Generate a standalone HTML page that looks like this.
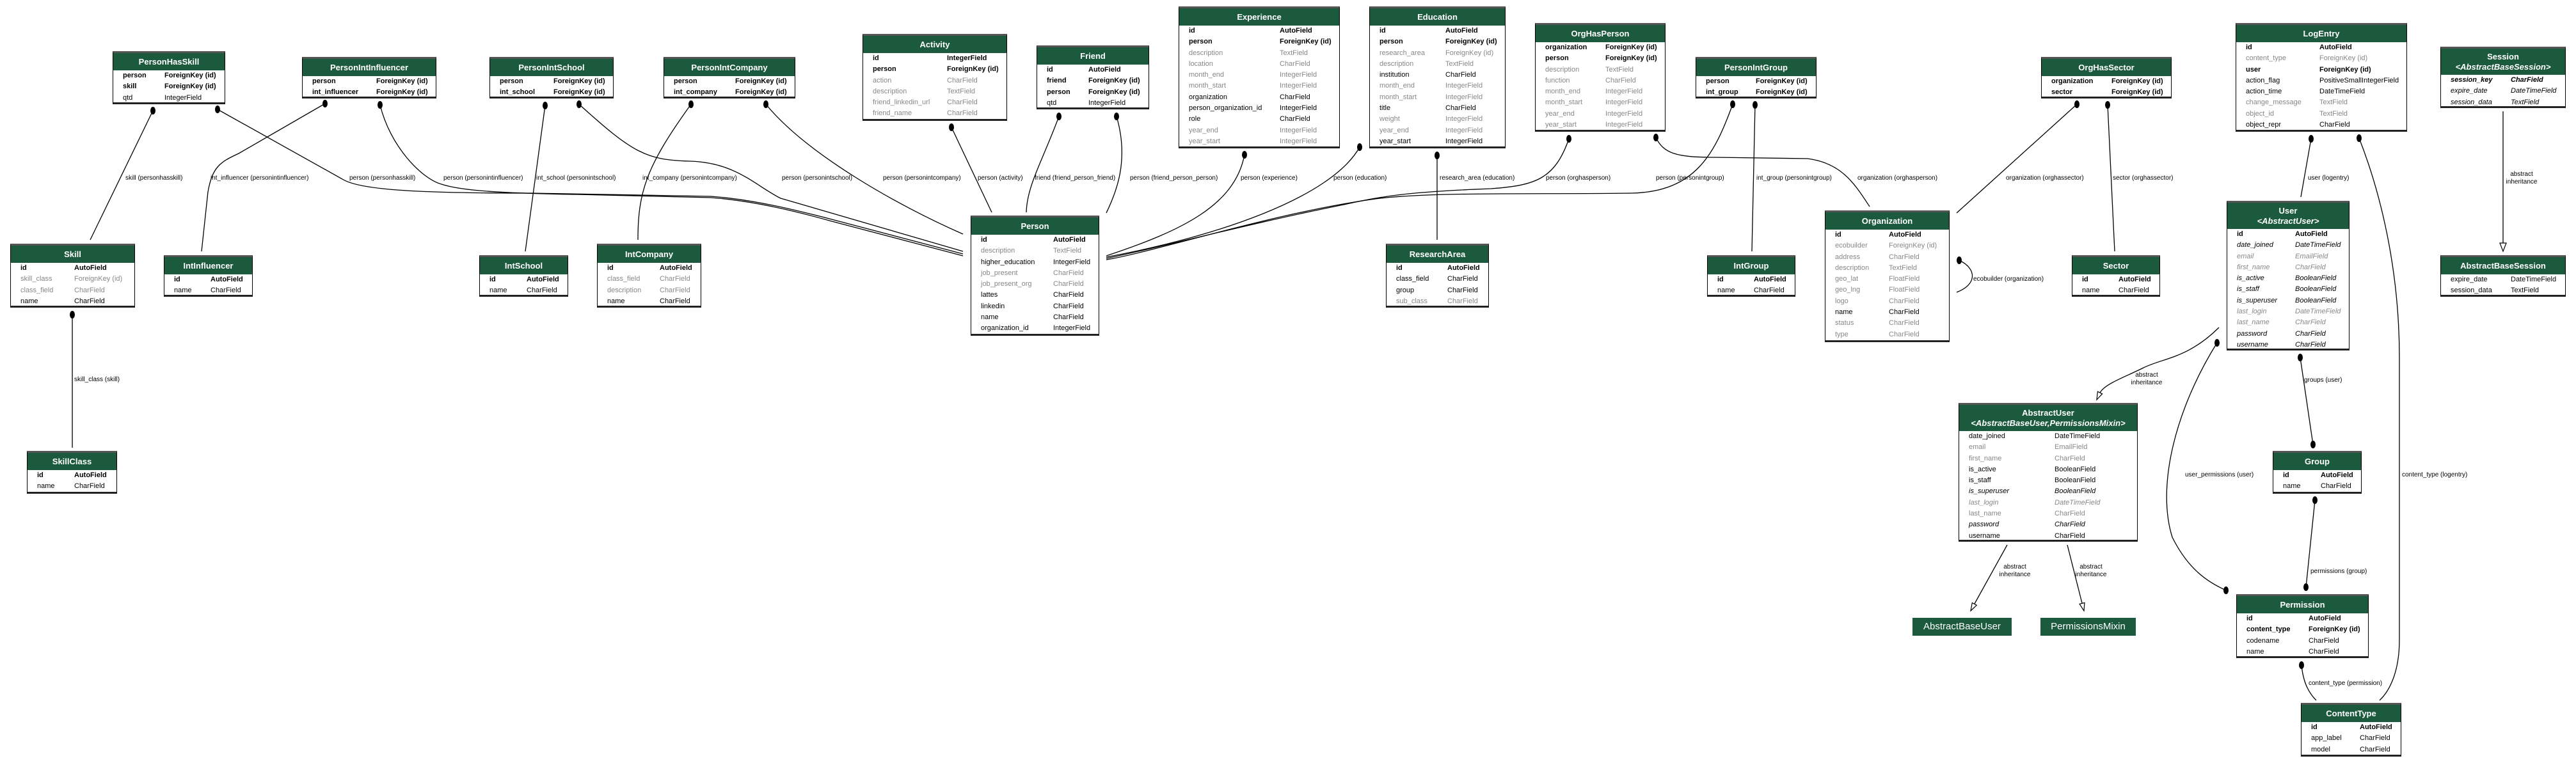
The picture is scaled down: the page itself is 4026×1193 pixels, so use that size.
<!DOCTYPE html>
<html><head><meta charset="utf-8"><style>
html,body{margin:0;padding:0;background:#fff}
#w{position:relative;width:4026px;height:1193px;overflow:hidden;font-family:"Liberation Sans",Arial,sans-serif}
svg{position:absolute;left:0;top:0}
.x{position:absolute;background:#fff;box-sizing:border-box;border:1px solid #000;border-top:3px solid #555;border-bottom:3px solid #222;overflow:hidden}
.h{background:#1c5a3e;color:#fff;font-weight:bold;font-size:13px;text-align:center;height:27px;line-height:27px;white-space:nowrap}
.h2{height:41px;line-height:16px;padding-top:5px;box-sizing:border-box}
.h2 i{font-weight:bold}
.x p{margin:0;position:relative;height:17.3px;line-height:17.3px;padding-left:15px;font-size:11px;white-space:nowrap;color:#000}
.x p span{position:absolute;left:calc(var(--c) - 1px);top:0}
.k{font-weight:bold}.g{color:#888!important}.i{font-style:italic}
.f{position:absolute;background:#1c5a3e;color:#fff;font-size:15px;text-align:center;line-height:28px;height:28px}
</style></head><body><div id="w">
<svg width="4026" height="1193" viewBox="0 0 4026 1193">
<g fill="none" stroke="#000" stroke-width="1.3">
<path d="M239,173 L141,375"/>
<path d="M340,171 L535,280 C560,296 640,302 829,302 L1111,307 C1180,312 1250,330 1300,343 L1505,397"/>
<path d="M594,164 C610,230 660,280 690,288 C720,298 780,302 900,304 L1111,309 C1180,314 1250,332 1300,346 L1505,400"/>
<path d="M905,163 C990,240 1010,250 1078,252 C1150,254 1180,290 1220,310 L1505,393"/>
<path d="M1197,163 C1260,240 1400,320 1505,366"/>
<path d="M508,162 L373,240 C345,253 332,260 325,300 L315,393"/>
<path d="M852,165 L821,393"/>
<path d="M1080,163 C1010,260 997,300 997,375"/>
<path d="M1487,199 L1550,332"/>
<path d="M1655,182 C1630,250 1605,290 1604,332"/>
<path d="M1745,182 C1765,250 1745,300 1729,333"/>
<path d="M1945,242 C1930,320 1850,360 1729,400"/>
<path d="M2125,230 C2080,310 1900,370 1729,402"/>
<path d="M2246,243 L2246,375"/>
<path d="M2452,217 C2430,280 2400,290 2330,295 C2200,300 2157,307 2100,320 C1950,350 1800,390 1729,404"/>
<path d="M2588,215 C2600,240 2620,246 2680,246 L2825,248 C2880,255 2900,290 2922,323"/>
<path d="M2708,163 C2680,240 2650,300 2550,302 C2400,304 2250,300 2157,310 C2000,330 1800,395 1729,406"/>
<path d="M2743,164 L2738,393"/>
<path d="M3246,163 L3058,333"/>
<path d="M3294,164 L3305,393"/>
<path d="M3062,407 C3090,420 3090,445 3058,457"/>
<path d="M3612,217 L3596,308"/>
<path d="M3687,216 C3720,300 3750,420 3750,560 L3750,1000 C3750,1050 3735,1080 3719,1095"/>
<path d="M3912,174 L3912,380"/>
<path d="M3468,512 C3420,560 3380,560 3350,575 C3320,590 3290,600 3282,614"/>
<path d="M3465,536 C3400,640 3370,760 3395,840 C3420,890 3450,910 3479,923"/>
<path d="M3595,559 L3615,695"/>
<path d="M3618,782 L3604,918"/>
<path d="M3597,1040 C3600,1070 3610,1085 3620,1095"/>
<path d="M3137,852 L3086,944"/>
<path d="M3231,852 L3254,943"/>
<path d="M113,492 L113,700"/>
</g>
<g fill="#fff" stroke="#000" stroke-width="1.2">
<polygon points="3907,380 3917,380 3912,393"/>
<polygon points="3277,625 3285.6,615.8 3278.4,612.2"/>
<polygon points="3080,955 3089.3,946.3 3082.3,942.5"/>
<polygon points="3257,955 3257.9,942.4 3250.1,944.4"/>
</g>
<g fill="#000">
<ellipse cx="239" cy="173" rx="4" ry="6"/><ellipse cx="340" cy="171" rx="4" ry="6"/><ellipse cx="508" cy="162" rx="4" ry="6"/><ellipse cx="594" cy="164" rx="4" ry="6"/><ellipse cx="852" cy="165" rx="4" ry="6"/><ellipse cx="905" cy="163" rx="4" ry="6"/><ellipse cx="1080" cy="163" rx="4" ry="6"/><ellipse cx="1197" cy="163" rx="4" ry="6"/><ellipse cx="1487" cy="199" rx="4" ry="6"/><ellipse cx="1655" cy="182" rx="4" ry="6"/><ellipse cx="1745" cy="182" rx="4" ry="6"/><ellipse cx="1945" cy="242" rx="4" ry="6"/><ellipse cx="2125" cy="230" rx="4" ry="6"/><ellipse cx="2246" cy="243" rx="4" ry="6"/><ellipse cx="2452" cy="217" rx="4" ry="6"/><ellipse cx="2588" cy="215" rx="4" ry="6"/><ellipse cx="2708" cy="163" rx="4" ry="6"/><ellipse cx="2743" cy="164" rx="4" ry="6"/><ellipse cx="3246" cy="163" rx="4" ry="6"/><ellipse cx="3294" cy="164" rx="4" ry="6"/><ellipse cx="3062" cy="407" rx="4" ry="6"/><ellipse cx="3612" cy="217" rx="4" ry="6"/><ellipse cx="3687" cy="216" rx="4" ry="6"/><ellipse cx="3465" cy="536" rx="4" ry="6"/><ellipse cx="3595" cy="559" rx="4" ry="6"/><ellipse cx="3615" cy="695" rx="4" ry="6"/><ellipse cx="3618" cy="782" rx="4" ry="6"/><ellipse cx="3604" cy="918" rx="4" ry="6"/><ellipse cx="3479" cy="923" rx="4" ry="6"/><ellipse cx="3597" cy="1040" rx="4" ry="6"/><ellipse cx="113" cy="492" rx="4" ry="6"/>
</g>
<g font-family="Liberation Sans, Arial, sans-serif" font-size="10" fill="#000">
<text x="196" y="281">skill (personhasskill)</text>
<text x="329" y="281">int_influencer (personintinfluencer)</text>
<text x="546" y="281">person (personhasskill)</text>
<text x="693" y="281">person (personintinfluencer)</text>
<text x="838" y="281">int_school (personintschool)</text>
<text x="1004" y="281">int_company (personintcompany)</text>
<text x="1222" y="281">person (personintschool)</text>
<text x="1380" y="281">person (personintcompany)</text>
<text x="1528" y="281">person (activity)</text>
<text x="1617" y="281">friend (friend_person_friend)</text>
<text x="1766" y="281">person (friend_person_person)</text>
<text x="1939" y="281">person (experience)</text>
<text x="2084" y="281">person (education)</text>
<text x="2250" y="281">research_area (education)</text>
<text x="2416" y="281">person (orghasperson)</text>
<text x="2588" y="281">person (personintgroup)</text>
<text x="2745" y="281">int_group (personintgroup)</text>
<text x="2903" y="281">organization (orghasperson)</text>
<text x="3135" y="281">organization (orghassector)</text>
<text x="3302" y="281">sector (orghassector)</text>
<text x="3084" y="439">ecobuilder (organization)</text>
<text x="3607" y="281">user (logentry)</text>
<text x="3941" y="275" text-anchor="middle">abstract</text><text x="3941" y="287" text-anchor="middle">inheritance</text>
<text x="3355" y="589" text-anchor="middle">abstract</text><text x="3355" y="601" text-anchor="middle">inheritance</text>
<text x="3601" y="597">groups (user)</text>
<text x="3415" y="745">user_permissions (user)</text>
<text x="3754" y="745">content_type (logentry)</text>
<text x="3611" y="896">permissions (group)</text>
<text x="3608" y="1071">content_type (permission)</text>
<text x="3149" y="889" text-anchor="middle">abstract</text><text x="3149" y="901" text-anchor="middle">inheritance</text>
<text x="3268" y="889" text-anchor="middle">abstract</text><text x="3268" y="901" text-anchor="middle">inheritance</text>
<text x="116" y="596">skill_class (skill)</text>
</g>
</svg>

<div class="x" style="left:176px;top:80px;width:176px;height:83px;--c:81px"><div class="h">PersonHasSkill</div><p class="k">person<span>ForeignKey (id)</span></p><p class="k">skill<span>ForeignKey (id)</span></p><p>qtd<span>IntegerField</span></p></div>
<div class="x" style="left:472px;top:89px;width:210px;height:65px;--c:116px"><div class="h">PersonIntInfluencer</div><p class="k">person<span>ForeignKey (id)</span></p><p class="k">int_influencer<span>ForeignKey (id)</span></p></div>
<div class="x" style="left:765px;top:89px;width:194px;height:65px;--c:100px"><div class="h">PersonIntSchool</div><p class="k">person<span>ForeignKey (id)</span></p><p class="k">int_school<span>ForeignKey (id)</span></p></div>
<div class="x" style="left:1037px;top:89px;width:206px;height:65px;--c:112px"><div class="h">PersonIntCompany</div><p class="k">person<span>ForeignKey (id)</span></p><p class="k">int_company<span>ForeignKey (id)</span></p></div>
<div class="x" style="left:16px;top:381px;width:195px;height:100px;--c:100px"><div class="h">Skill</div><p class="k">id<span>AutoField</span></p><p class="g">skill_class<span>ForeignKey (id)</span></p><p class="g">class_field<span>CharField</span></p><p>name<span>CharField</span></p></div>
<div class="x" style="left:256px;top:399px;width:139px;height:65px;--c:73px"><div class="h">IntInfluencer</div><p class="k">id<span>AutoField</span></p><p>name<span>CharField</span></p></div>
<div class="x" style="left:749px;top:399px;width:139px;height:65px;--c:74px"><div class="h">IntSchool</div><p class="k">id<span>AutoField</span></p><p>name<span>CharField</span></p></div>
<div class="x" style="left:933px;top:381px;width:163px;height:100px;--c:98px"><div class="h">IntCompany</div><p class="k">id<span>AutoField</span></p><p class="g">class_field<span>CharField</span></p><p class="g">description<span>CharField</span></p><p>name<span>CharField</span></p></div>
<div class="x" style="left:1348px;top:53px;width:226px;height:136px;--c:132px"><div class="h">Activity</div><p class="k">id<span>IntegerField</span></p><p class="k">person<span>ForeignKey (id)</span></p><p class="g">action<span>CharField</span></p><p class="g">description<span>TextField</span></p><p class="g">friend_linkedin_url<span>CharField</span></p><p class="g">friend_name<span>CharField</span></p></div>
<div class="x" style="left:1620px;top:71px;width:176px;height:100px;--c:81px"><div class="h">Friend</div><p class="k">id<span>AutoField</span></p><p class="k">friend<span>ForeignKey (id)</span></p><p class="k">person<span>ForeignKey (id)</span></p><p>qtd<span>IntegerField</span></p></div>
<div class="x" style="left:1842px;top:10px;width:252px;height:222px;--c:158px"><div class="h">Experience</div><p class="k">id<span>AutoField</span></p><p class="k">person<span>ForeignKey (id)</span></p><p class="g">description<span>TextField</span></p><p class="g">location<span>CharField</span></p><p class="g">month_end<span>IntegerField</span></p><p class="g">month_start<span>IntegerField</span></p><p>organization<span>CharField</span></p><p>person_organization_id<span>IntegerField</span></p><p>role<span>CharField</span></p><p class="g">year_end<span>IntegerField</span></p><p class="g">year_start<span>IntegerField</span></p></div>
<div class="x" style="left:2140px;top:10px;width:213px;height:222px;--c:119px"><div class="h">Education</div><p class="k">id<span>AutoField</span></p><p class="k">person<span>ForeignKey (id)</span></p><p class="g">research_area<span>ForeignKey (id)</span></p><p class="g">description<span>TextField</span></p><p>institution<span>CharField</span></p><p class="g">month_end<span>IntegerField</span></p><p class="g">month_start<span>IntegerField</span></p><p>title<span>CharField</span></p><p class="g">weight<span>IntegerField</span></p><p class="g">year_end<span>IntegerField</span></p><p>year_start<span>IntegerField</span></p></div>
<div class="x" style="left:2399px;top:36px;width:204px;height:170px;--c:110px"><div class="h">OrgHasPerson</div><p class="k">organization<span>ForeignKey (id)</span></p><p class="k">person<span>ForeignKey (id)</span></p><p class="g">description<span>TextField</span></p><p class="g">function<span>CharField</span></p><p class="g">month_end<span>IntegerField</span></p><p class="g">month_start<span>IntegerField</span></p><p class="g">year_end<span>IntegerField</span></p><p class="g">year_start<span>IntegerField</span></p></div>
<div class="x" style="left:1517px;top:337px;width:201px;height:188px;--c:129px"><div class="h">Person</div><p class="k">id<span>AutoField</span></p><p class="g">description<span>TextField</span></p><p>higher_education<span>IntegerField</span></p><p class="g">job_present<span>CharField</span></p><p class="g">job_present_org<span>CharField</span></p><p>lattes<span>CharField</span></p><p>linkedin<span>CharField</span></p><p>name<span>CharField</span></p><p>organization_id<span>IntegerField</span></p></div>
<div class="x" style="left:2166px;top:381px;width:161px;height:100px;--c:96px"><div class="h">ResearchArea</div><p class="k">id<span>AutoField</span></p><p>class_field<span>CharField</span></p><p>group<span>CharField</span></p><p class="g">sub_class<span>CharField</span></p></div>
<div class="x" style="left:2650px;top:89px;width:189px;height:65px;--c:94px"><div class="h">PersonIntGroup</div><p class="k">person<span>ForeignKey (id)</span></p><p class="k">int_group<span>ForeignKey (id)</span></p></div>
<div class="x" style="left:3190px;top:89px;width:204px;height:65px;--c:110px"><div class="h">OrgHasSector</div><p class="k">organization<span>ForeignKey (id)</span></p><p class="k">sector<span>ForeignKey (id)</span></p></div>
<div class="x" style="left:3494px;top:36px;width:268px;height:170px;--c:131px"><div class="h">LogEntry</div><p class="k">id<span>AutoField</span></p><p class="g">content_type<span>ForeignKey (id)</span></p><p class="k">user<span>ForeignKey (id)</span></p><p>action_flag<span>PositiveSmallIntegerField</span></p><p>action_time<span>DateTimeField</span></p><p class="g">change_message<span>TextField</span></p><p class="g">object_id<span>TextField</span></p><p>object_repr<span>CharField</span></p></div>
<div class="x" style="left:3814px;top:73px;width:196px;height:96px;--c:110px"><div class="h h2">Session<br><i>&lt;AbstractBaseSession&gt;</i></div><p class="k i">session_key<span>CharField</span></p><p class="i">expire_date<span>DateTimeField</span></p><p class="i">session_data<span>TextField</span></p></div>
<div class="x" style="left:2852px;top:329px;width:195px;height:206px;--c:100px"><div class="h">Organization</div><p class="k">id<span>AutoField</span></p><p class="g">ecobuilder<span>ForeignKey (id)</span></p><p class="g">address<span>CharField</span></p><p class="g">description<span>TextField</span></p><p class="g">geo_lat<span>FloatField</span></p><p class="g">geo_lng<span>FloatField</span></p><p class="g">logo<span>CharField</span></p><p>name<span>CharField</span></p><p class="g">status<span>CharField</span></p><p class="g">type<span>CharField</span></p></div>
<div class="x" style="left:2668px;top:399px;width:138px;height:65px;--c:73px"><div class="h">IntGroup</div><p class="k">id<span>AutoField</span></p><p>name<span>CharField</span></p></div>
<div class="x" style="left:3238px;top:399px;width:138px;height:65px;--c:73px"><div class="h">Sector</div><p class="k">id<span>AutoField</span></p><p>name<span>CharField</span></p></div>
<div class="x" style="left:3480px;top:314px;width:192px;height:234px;--c:107px"><div class="h h2">User<br><i>&lt;AbstractUser&gt;</i></div><p class="k">id<span>AutoField</span></p><p class="i">date_joined<span>DateTimeField</span></p><p class="g i">email<span>EmailField</span></p><p class="g i">first_name<span>CharField</span></p><p class="i">is_active<span>BooleanField</span></p><p class="i">is_staff<span>BooleanField</span></p><p class="i">is_superuser<span>BooleanField</span></p><p class="g i">last_login<span>DateTimeField</span></p><p class="g i">last_name<span>CharField</span></p><p class="i">password<span>CharField</span></p><p class="i">username<span>CharField</span></p></div>
<div class="x" style="left:3814px;top:399px;width:196px;height:65px;--c:110px"><div class="h">AbstractBaseSession</div><p>expire_date<span>DateTimeField</span></p><p>session_data<span>TextField</span></p></div>
<div class="x" style="left:3061px;top:630px;width:280px;height:217px;--c:150px"><div class="h h2">AbstractUser<br><i>&lt;AbstractBaseUser,PermissionsMixin&gt;</i></div><p>date_joined<span>DateTimeField</span></p><p class="g">email<span>EmailField</span></p><p class="g">first_name<span>CharField</span></p><p>is_active<span>BooleanField</span></p><p>is_staff<span>BooleanField</span></p><p class="i">is_superuser<span>BooleanField</span></p><p class="g i">last_login<span>DateTimeField</span></p><p class="g">last_name<span>CharField</span></p><p class="i">password<span>CharField</span></p><p>username<span>CharField</span></p></div>
<div class="x" style="left:3552px;top:705px;width:139px;height:67px;--c:75px"><div class="h">Group</div><p class="k">id<span>AutoField</span></p><p>name<span>CharField</span></p></div>
<div class="f" style="left:2989px;top:966px;width:155px">AbstractBaseUser</div>
<div class="f" style="left:3189px;top:966px;width:149px">PermissionsMixin</div>
<div class="x" style="left:3495px;top:929px;width:207px;height:100px;--c:113px"><div class="h">Permission</div><p class="k">id<span>AutoField</span></p><p class="k">content_type<span>ForeignKey (id)</span></p><p>codename<span>CharField</span></p><p>name<span>CharField</span></p></div>
<div class="x" style="left:3596px;top:1099px;width:157px;height:84px;--c:92px"><div class="h">ContentType</div><p class="k">id<span>AutoField</span></p><p>app_label<span>CharField</span></p><p>model<span>CharField</span></p></div>
<div class="x" style="left:42px;top:705px;width:141px;height:67px;--c:74px"><div class="h">SkillClass</div><p class="k">id<span>AutoField</span></p><p>name<span>CharField</span></p></div>
</div></body></html>
